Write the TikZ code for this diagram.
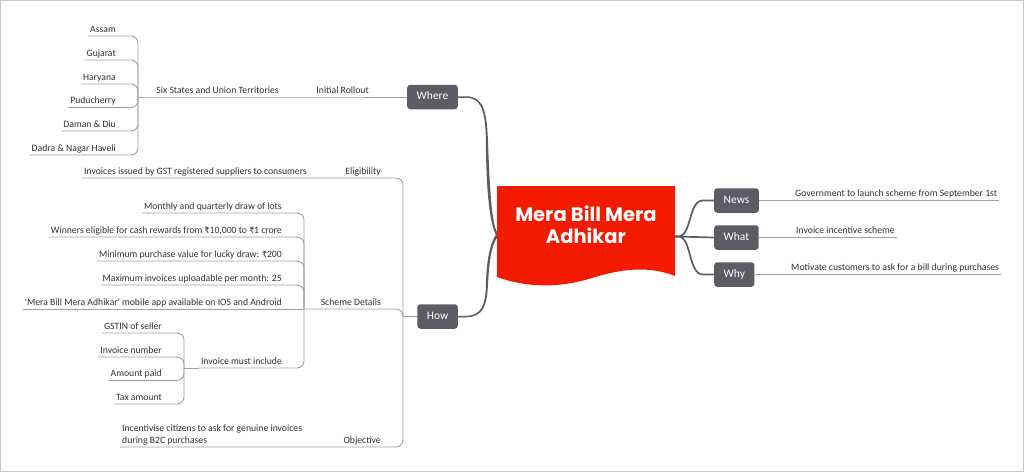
\documentclass[tikz,border=0pt]{standalone}
\usepackage{fontspec}
\setmainfont{Carlito}
\newfontfamily\poppins{Poppins}
\definecolor{cred}{RGB}{244,26,0}
\definecolor{boxg}{RGB}{92,92,100}
\definecolor{lineg}{RGB}{160,160,160}
\definecolor{txt}{RGB}{48,48,48}
\definecolor{bord}{RGB}{200,200,200}
\tikzset{
  leaf/.style={font=\fontsize{9.7}{12}\selectfont, text=txt, inner xsep=2pt, inner ysep=1.5pt, text height=7pt, text depth=2.2pt},
  topic/.style={fill=boxg, text=white, rounded corners=3pt, font=\fontsize{11.5}{13}\selectfont, inner xsep=9.5pt, inner ysep=0pt, minimum height=24.5pt, text height=8pt, text depth=2.5pt},
  lline/.style={draw=lineg, line width=0.9pt, rounded corners=7pt},
  mline/.style={draw=boxg, line width=1.7pt},
}
\begin{document}
\begin{tikzpicture}[x=1pt,y=-1pt]
\useasboundingbox (0,0) rectangle (1024,472);
\draw[bord, line width=1pt] (0.5,0.5) rectangle (1023.5,471.5);

% central topic
\fill[cred] (497,186) -- (675,186) -- (675,276) .. controls (652,267) and (627,267) .. (592,278) .. controls (560,288) and (528,288) .. (497,277) -- cycle;
\node[font=\poppins\bfseries\fontsize{19.5}{22}\selectfont, text=white, align=center, inner sep=0pt] (title) at (586,224.5) {Mera Bill Mera\\Adhikar};
\coordinate (cl) at (497,235);
\coordinate (cr) at (675,236.5);

% main topics
\node[topic, anchor=east] (where) at (458,97) {Where};
\node[topic, anchor=east] (how) at (458,316.5) {How};
\node[topic, anchor=west] (news) at (714,200.5) {News};
\node[topic, anchor=west] (what) at (714,237.5) {What};
\node[topic, anchor=west] (why) at (714,274.5) {Why};

% right leaves
\node[leaf, anchor=south west] (govt) at (793,200.5) {Government to launch scheme from September 1st};
\node[leaf, anchor=south west] (invinc) at (794,237.5) {Invoice incentive scheme};
\node[leaf, anchor=south west] (motiv) at (789,274.5) {Motivate customers to ask for a bill during purchases};

% Where branch
\node[leaf, anchor=south east] (initial) at (371,97) {Initial Rollout};
\node[leaf, anchor=south east] (six) at (281,97) {Six States and Union Territories};
\coordinate (jW) at (138,97);
\node[leaf, anchor=south east] (assam) at (118,36) {Assam};
\node[leaf, anchor=south east] (gujarat) at (118,60) {Gujarat};
\node[leaf, anchor=south east] (haryana) at (118,84) {Haryana};
\node[leaf, anchor=south east] (puducherry) at (118,107.5) {Puducherry};
\node[leaf, anchor=south east] (daman) at (118,131) {Daman \& Diu};
\node[leaf, anchor=south east] (dadra) at (118,155) {Dadra \& Nagar Haveli};

% How branch
\coordinate (jH) at (403,316.5);
\node[leaf, anchor=south east] (elig) at (383,178) {Eligibility};
\node[leaf, anchor=south east] (invoices) at (309,178) {Invoices issued by GST registered suppliers to consumers};
\node[leaf, anchor=south east] (scheme) at (383,309) {Scheme Details};
\coordinate (jS) at (304,309);
\node[leaf, anchor=south east] (monthly) at (284,213) {Monthly and quarterly draw of lots};
\node[leaf, anchor=south east] (winners) at (284,237) {Winners eligible for cash rewards from ₹10,000 to ₹1 crore};
\node[leaf, anchor=south east] (minimum) at (284,261) {Minimum purchase value for lucky draw: ₹200};
\node[leaf, anchor=south east] (maximum) at (284,285) {Maximum invoices uploadable per month: 25};
\node[leaf, anchor=south east] (mobile) at (284,309) {\textquotesingle Mera Bill Mera Adhikar\textquotesingle{} mobile app available on IOS and Android};
\node[leaf, anchor=south east] (invmust) at (284,368) {Invoice must include};
\coordinate (jI) at (184,368);
\node[leaf, anchor=south east] (gstin) at (164,333) {GSTIN of seller};
\node[leaf, anchor=south east] (invnum) at (164,357) {Invoice number};
\node[leaf, anchor=south east] (amount) at (164,380.5) {Amount paid};
\node[leaf, anchor=south east] (tax) at (164,404) {Tax amount};
\node[leaf, anchor=south east] (objective) at (383,447) {Objective};
\node[font=\fontsize{9.7}{12}\selectfont, text=txt, align=left, anchor=south west, inner xsep=2pt, inner ysep=2pt] (incent) at (120,447) {Incentivise citizens to ask for genuine invoices\\during B2C purchases};

% main connectors (tapered)
\fill[boxg] ([yshift=0.75pt]where.east) -- (466,96.25) .. controls (482.7,96.25) and (486.9,110) .. (487.9,140) .. controls (489.9,190) and (491.5,222) .. (497,232) -- (497,237) .. controls (489.5,225) and (486.1,190) .. (485.9,140) .. controls (485.3,111) and (481.3,97.75) .. (466,97.75) -- ([yshift=-0.75pt]where.east) -- cycle;
\fill[boxg] ([yshift=-0.75pt]how.east) -- (466,317.25) .. controls (482.7,317.25) and (486.9,306) .. (487.9,286) .. controls (489.2,262) and (491,246) .. (497,238) -- (497,233) .. controls (489.5,243) and (486.3,262) .. (485.9,286) .. controls (485.3,305) and (481.3,315.75) .. (466,315.75) -- ([yshift=0.75pt]how.east) -- cycle;
\draw[mline] (cr) -- ++(3,0) .. controls (692,236.5) and (688,200.5) .. (703,200.5) -- (news.west);
\draw[mline] (cr) -- (what.west);
\draw[mline] (cr) -- ++(3,0) .. controls (692,236.5) and (688,274.5) .. (703,274.5) -- (why.west);

% right leaf lines
\draw[lline] (news.east) -- (govt.south east);
\draw[lline] (what.east) -- (invinc.south east);
\draw[lline] (why.east) -- (motiv.south east);

% where lines
\draw[lline] (where.west) -- (initial.south west) -- (six.south west) -- (jW);
\foreach \c in {assam,gujarat,haryana,puducherry,daman,dadra} \draw[lline] (jW) |- (\c.south west);

% how lines
\draw[lline] (how.west) -- (jH);
\draw[lline] (jH) |- (elig.south west) -- (invoices.south west);
\draw[lline] (jH) |- (scheme.south west) -- (jS);
\draw[lline] (jH) |- (objective.south west) -- (incent.south west);
\foreach \c in {monthly,winners,minimum,maximum,invmust} \draw[lline] (jS) |- (\c.south west);
\draw[lline] (jS) -- (mobile.south west);
\draw[lline] (invmust.south west) -- (jI);
\foreach \c in {gstin,invnum,amount,tax} \draw[lline] (jI) |- (\c.south west);
\end{tikzpicture}
\end{document}
